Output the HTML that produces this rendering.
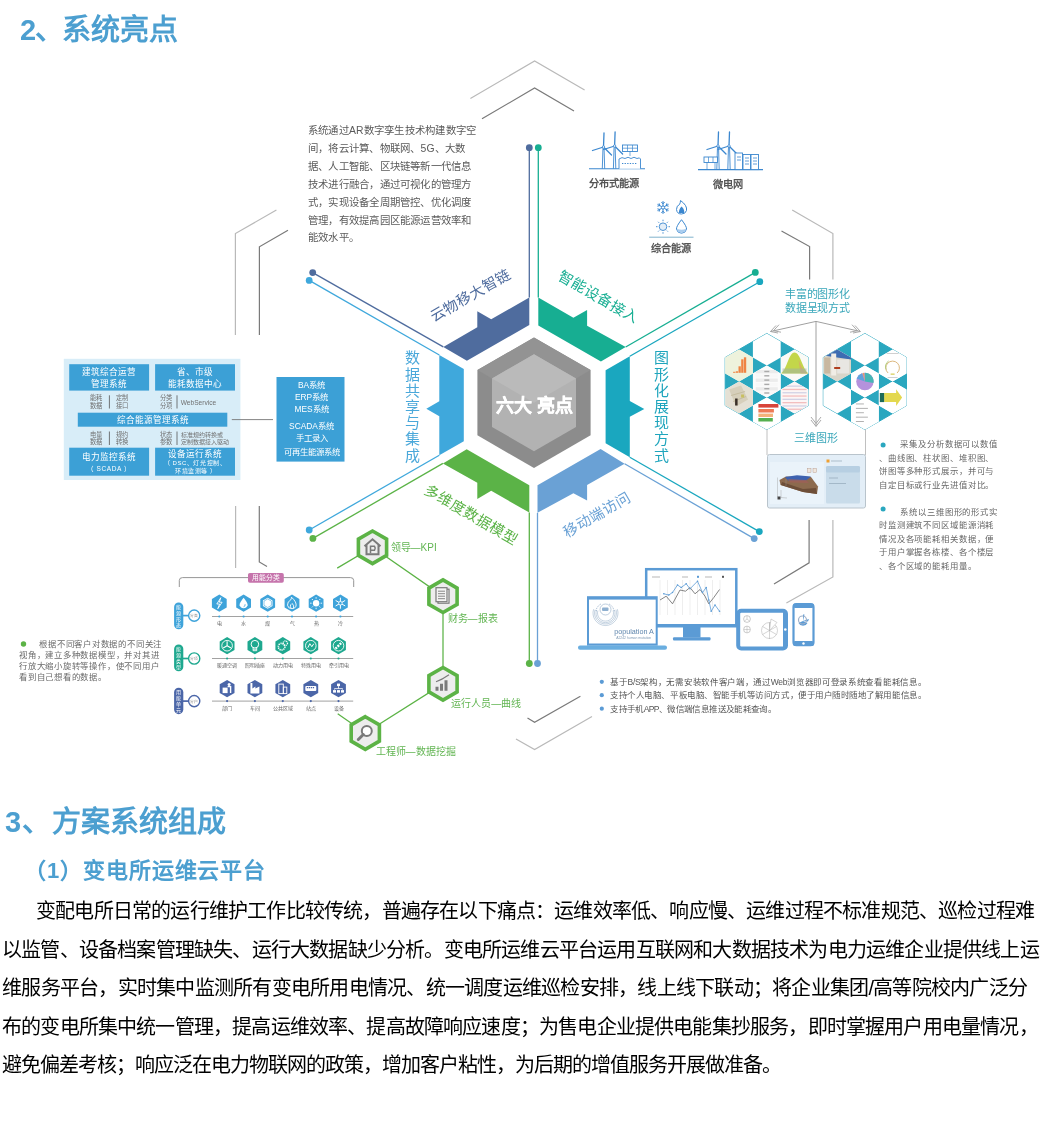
<!DOCTYPE html>
<html lang="zh-CN"><head><meta charset="utf-8">
<style>
html,body{margin:0;padding:0;background:#fff;}
body{width:1040px;height:1132px;position:relative;overflow:hidden;font-family:"Liberation Sans",sans-serif;-webkit-font-smoothing:antialiased;}
.pl,.a{will-change:transform;}
.a{position:absolute;white-space:nowrap;}
svg text{font-family:"Liberation Sans",sans-serif;}
.h1{font-size:29px;font-weight:bold;color:#4c9fd0;line-height:1;}
.h2{font-size:22px;font-weight:bold;color:#4c9fd0;line-height:1;}
.pl{position:absolute;left:8px;width:1027px;font-size:20px;letter-spacing:-1px;line-height:1;color:#000;text-align:justify;text-align-last:justify;white-space:nowrap;}
</style></head>
<body>
<div class="a h1" style="left:20px;top:15.5px"><span style="letter-spacing:-1.45px">2、</span>系统亮点</div>
<svg class="a" style="left:0;top:0" width="1040" height="780" viewBox="0 0 1040 780">
<polyline points="470.4,98.5 534.6,61.0 584.6,90.0" fill="none" stroke="#b9b9b9" stroke-width="1.2"/>
<polyline points="482.0,118.8 534.6,88.0 574.0,111.0" fill="none" stroke="#7a7a7a" stroke-width="1.2"/>
<polyline points="276.4,210.0 235.4,233.5 235.4,335.0" fill="none" stroke="#b9b9b9" stroke-width="1.2"/>
<polyline points="288.0,230.2 259.4,246.8 259.4,335.0" fill="none" stroke="#7a7a7a" stroke-width="1.2"/>
<polyline points="235.6,506.0 235.6,568.0" fill="none" stroke="#b9b9b9" stroke-width="1.2"/>
<polyline points="259.3,506.0 259.3,562.0 267.0,566.5" fill="none" stroke="#7a7a7a" stroke-width="1.2"/>
<polyline points="516.0,739.0 534.6,749.6 592.0,716.5" fill="none" stroke="#b9b9b9" stroke-width="1.2"/>
<polyline points="527.5,717.9 534.6,722.3 580.4,696.2" fill="none" stroke="#7a7a7a" stroke-width="1.2"/>
<polyline points="809.1,520.0 809.1,562.8 774.0,584.0" fill="none" stroke="#7a7a7a" stroke-width="1.2"/>
<polyline points="832.9,520.0 832.9,577.0 786.4,603.0" fill="none" stroke="#b9b9b9" stroke-width="1.2"/>
<polyline points="792.2,209.9 832.9,233.6 832.9,279.6" fill="none" stroke="#b9b9b9" stroke-width="1.2"/>
<polyline points="781.5,230.9 809.6,246.6 809.6,279.6" fill="none" stroke="#7a7a7a" stroke-width="1.2"/>
<polygon points="439.3,355.0 463.8,369.0 463.8,441.3 439.3,455.2 439.3,416.3 426.3,408.8 439.3,401.3" fill="#3fa8dc"/>
<line x1="439.3" y1="355.0" x2="309.2" y2="280.4" stroke="#3fa8dc" stroke-width="1.3"/>
<circle cx="309.2" cy="280.4" r="3.4" fill="#3fa8dc"/>
<line x1="439.3" y1="455.2" x2="309.2" y2="530.0" stroke="#3fa8dc" stroke-width="1.3"/>
<circle cx="309.2" cy="530.0" r="3.4" fill="#3fa8dc"/>
<polygon points="443.3,346.9 466.9,360.8 529.3,324.9 529.3,297.5 491.2,319.3 477.3,311.2 477.3,327.3" fill="#4f6c9e"/>
<line x1="443.3" y1="346.9" x2="312.7" y2="272.6" stroke="#4f6c9e" stroke-width="1.3"/>
<circle cx="312.7" cy="272.6" r="3.4" fill="#4f6c9e"/>
<line x1="529.3" y1="297.5" x2="529.3" y2="147.7" stroke="#4f6c9e" stroke-width="1.3"/>
<circle cx="529.3" cy="147.7" r="3.4" fill="#4f6c9e"/>
<polygon points="538.3,297.6 538.3,325.6 600.9,361.4 625.7,347.0 587.1,325.7 587.1,310.1 573.4,317.8" fill="#17ae92"/>
<line x1="538.3" y1="297.6" x2="538.3" y2="147.7" stroke="#17ae92" stroke-width="1.3"/>
<circle cx="538.3" cy="147.7" r="3.4" fill="#17ae92"/>
<line x1="625.7" y1="347.0" x2="755.3" y2="272.4" stroke="#17ae92" stroke-width="1.3"/>
<circle cx="755.3" cy="272.4" r="3.4" fill="#17ae92"/>
<polygon points="605.6,370.3 629.8,356.3 629.8,401.0 644.3,408.9 629.8,416.8 629.8,457.3 605.6,443.3" fill="#1aa7bf"/>
<line x1="629.8" y1="356.3" x2="759.8" y2="281.7" stroke="#1aa7bf" stroke-width="1.3"/>
<circle cx="759.8" cy="281.7" r="3.4" fill="#1aa7bf"/>
<line x1="629.8" y1="457.3" x2="759.3" y2="531.6" stroke="#1aa7bf" stroke-width="1.3"/>
<circle cx="759.3" cy="531.6" r="3.4" fill="#1aa7bf"/>
<polygon points="537.5,485.2 537.5,512.8 573.4,493.2 587.1,500.4 587.1,485.0 624.6,463.8 600.6,449.0" fill="#6aa1d5"/>
<line x1="537.5" y1="512.8" x2="537.5" y2="663.5" stroke="#6aa1d5" stroke-width="1.3"/>
<circle cx="537.5" cy="663.5" r="3.4" fill="#6aa1d5"/>
<line x1="624.6" y1="463.8" x2="754.2" y2="538.6" stroke="#6aa1d5" stroke-width="1.3"/>
<circle cx="754.2" cy="538.6" r="3.4" fill="#6aa1d5"/>
<polygon points="442.9,463.4 466.7,449.3 529.3,485.3 529.3,512.6 491.2,490.8 477.3,498.9 477.3,482.8" fill="#5bb347"/>
<line x1="442.9" y1="463.4" x2="312.9" y2="538.4" stroke="#5bb347" stroke-width="1.3"/>
<circle cx="312.9" cy="538.4" r="3.4" fill="#5bb347"/>
<line x1="529.3" y1="512.6" x2="529.3" y2="663.5" stroke="#5bb347" stroke-width="1.3"/>
<circle cx="529.3" cy="663.5" r="3.4" fill="#5bb347"/>
<polygon points="534.0,337.4 590.6,370.1 590.6,435.3 534.0,468.0 477.4,435.3 477.4,370.0" fill="#8c8c8c"/>
<polygon points="534.0,337.4 590.5,370.1 576.0,378.4 534.0,354.2 492.0,378.4 477.5,370.1" fill="#939393"/>
<polygon points="534.0,354.2 576.0,378.4 576.0,426.9 534.0,451.2 492.0,426.9 492.0,378.4" fill="#b2b2b2"/>
<polygon points="534.0,354.2 576.0,378.4 534.0,402.7 492.0,378.4" fill="#bababa"/>
<text x="535.0" y="412.2" text-anchor="middle" font-size="18" font-weight="bold" fill="#fff" stroke="#fff" stroke-width="0.4">六大 亮点</text>
<text x="412.8" y="363.4" text-anchor="middle" font-size="15" fill="#4aa8da">数</text>
<text x="412.8" y="379.6" text-anchor="middle" font-size="15" fill="#4aa8da">据</text>
<text x="412.8" y="395.8" text-anchor="middle" font-size="15" fill="#4aa8da">共</text>
<text x="412.8" y="412.0" text-anchor="middle" font-size="15" fill="#4aa8da">享</text>
<text x="412.8" y="428.2" text-anchor="middle" font-size="15" fill="#4aa8da">与</text>
<text x="412.8" y="444.4" text-anchor="middle" font-size="15" fill="#4aa8da">集</text>
<text x="412.8" y="460.6" text-anchor="middle" font-size="15" fill="#4aa8da">成</text>
<text x="661.3" y="363.4" text-anchor="middle" font-size="15" fill="#1fa5bd">图</text>
<text x="661.3" y="379.6" text-anchor="middle" font-size="15" fill="#1fa5bd">形</text>
<text x="661.3" y="395.8" text-anchor="middle" font-size="15" fill="#1fa5bd">化</text>
<text x="661.3" y="412.0" text-anchor="middle" font-size="15" fill="#1fa5bd">展</text>
<text x="661.3" y="428.2" text-anchor="middle" font-size="15" fill="#1fa5bd">现</text>
<text x="661.3" y="444.4" text-anchor="middle" font-size="15" fill="#1fa5bd">方</text>
<text x="661.3" y="460.6" text-anchor="middle" font-size="15" fill="#1fa5bd">式</text>
<text transform="translate(470.7,294.9) rotate(-30)" x="0" y="5.5" text-anchor="middle" font-size="14.6" fill="#4f6c9e">云物移大智链</text>
<text transform="translate(599.0,296.6) rotate(30)" x="0" y="5.5" text-anchor="middle" font-size="14.6" fill="#17ae92">智能设备接入</text>
<text transform="translate(597.0,514.0) rotate(-30)" x="0" y="5.5" text-anchor="middle" font-size="14.6" fill="#6aa1d5">移动端访问</text>
<text transform="translate(471.3,514.2) rotate(30)" x="0" y="5.5" text-anchor="middle" font-size="14.6" fill="#5bb347">多维度数据模型</text>
<line x1="589" y1="168.7" x2="645" y2="168.7" stroke="#3b87cf" stroke-width="1.1"/>
<path d="M602.3,168.7 L603.0,147.0 L604.0,147.0 L604.7,168.7" fill="none" stroke="#3b87cf" stroke-width="0.9"/><path d="M603.5,147.0 L604.0,133.0 M603.5,147.0 L592.5,150.5 M603.5,147.0 L611.5,155.0" stroke="#3b87cf" stroke-width="1.3" stroke-linecap="round"/><circle cx="603.5" cy="147.0" r="1.2" fill="#fff" stroke="#3b87cf" stroke-width="0.8"/>
<path d="M613.4,168.7 L614.1,146.0 L615.1,146.0 L615.8,168.7" fill="none" stroke="#3b87cf" stroke-width="0.9"/><path d="M614.6,146.0 L615.1,132.0 M614.6,146.0 L603.6,149.5 M614.6,146.0 L622.6,154.0" stroke="#3b87cf" stroke-width="1.3" stroke-linecap="round"/><circle cx="614.6" cy="146.0" r="1.2" fill="#fff" stroke="#3b87cf" stroke-width="0.8"/>
<rect x="622.5" y="145" width="15" height="6.5" fill="#fff" stroke="#3b87cf" stroke-width="0.9"/>
<path d="M627.5,145 V151.5 M632.5,145 V151.5 M622.5,148.2 H637.5 M630,151.5 V156" stroke="#3b87cf" stroke-width="0.7"/>
<path d="M619,168.7 V159 Q622,156.5 625,158.5 Q628,156 631,158.5 Q634,156 637,158.5 Q640,157 640.5,159 V168.7" fill="#fff" stroke="#3b87cf" stroke-width="0.9"/>
<path d="M622,163.5 H637" stroke="#3b87cf" stroke-width="1.2" stroke-dasharray="1.3,1.3"/>
<text x="613.5" y="186.8" text-anchor="middle" font-size="10.2" font-weight="bold" fill="#555">分布式能源</text>
<line x1="698" y1="169.6" x2="763" y2="169.6" stroke="#3b87cf" stroke-width="1.1"/>
<path d="M716.8,169.6 L717.5,146.0 L718.5,146.0 L719.2,169.6" fill="none" stroke="#3b87cf" stroke-width="0.9"/><path d="M718.0,146.0 L718.5,132.0 M718.0,146.0 L707.0,149.5 M718.0,146.0 L726.0,154.0" stroke="#3b87cf" stroke-width="1.3" stroke-linecap="round"/><circle cx="718.0" cy="146.0" r="1.2" fill="#fff" stroke="#3b87cf" stroke-width="0.8"/>
<path d="M727.8,169.6 L728.5,146.0 L729.5,146.0 L730.2,169.6" fill="none" stroke="#3b87cf" stroke-width="0.9"/><path d="M729.0,146.0 L729.5,132.0 M729.0,146.0 L718.0,149.5 M729.0,146.0 L737.0,154.0" stroke="#3b87cf" stroke-width="1.3" stroke-linecap="round"/><circle cx="729.0" cy="146.0" r="1.2" fill="#fff" stroke="#3b87cf" stroke-width="0.8"/>
<rect x="704" y="157" width="13.5" height="5.5" fill="#fff" stroke="#3b87cf" stroke-width="0.9"/>
<path d="M708.5,157 V162.5 M713,157 V162.5 M707,162.5 V169.6 M715,162.5 V169.6" stroke="#3b87cf" stroke-width="0.7"/>
<rect x="735" y="153" width="7.5" height="16.6" fill="#fff" stroke="#3b87cf" stroke-width="0.9"/>
<rect x="743" y="154.5" width="7.5" height="15.1" fill="#fff" stroke="#3b87cf" stroke-width="0.9"/>
<rect x="751" y="154.5" width="7.5" height="15.1" fill="#fff" stroke="#3b87cf" stroke-width="0.9"/>
<path d="M745,158 H749 M745,161 H749 M745,164 H749 M753,158 H757 M753,161 H757 M753,164 H757 M737,157 H741 M737,160 H741" stroke="#3b87cf" stroke-width="0.8"/>
<text x="727.6" y="188.2" text-anchor="middle" font-size="10.2" font-weight="bold" fill="#555">微电网</text>
<path d="M663.0,203.7 L661.6,202.3 M663.0,203.7 L664.4,202.3 M663.0,207.5 L663.0,201.5 M666.3,205.6 L666.8,203.7 M666.3,205.6 L668.2,206.1 M663.0,207.5 L668.2,204.5 M666.3,209.4 L668.2,208.9 M666.3,209.4 L666.8,211.3 M663.0,207.5 L668.2,210.5 M663.0,211.3 L664.4,212.7 M663.0,211.3 L661.6,212.7 M663.0,207.5 L663.0,213.5 M659.7,209.4 L659.2,211.3 M659.7,209.4 L657.8,208.9 M663.0,207.5 L657.8,210.5 M659.7,205.6 L657.8,206.1 M659.7,205.6 L659.2,203.7 M663.0,207.5 L657.8,204.5 " stroke="#3b87cf" stroke-width="1" stroke-linecap="round" fill="none"/>
<circle cx="663" cy="207.5" r="1.6" fill="#fff" stroke="#3b87cf" stroke-width="0.9"/>
<path d="M680.5,200.5 Q687.5,205.5 686.5,210.5 Q685.5,214.0 681.5,214.0 Q677.0,214.0 676.5,209.5 Q676.5,205.5 679.5,204.5 Q680.5,202.5 680.5,200.5 Z" fill="#fff" stroke="#3b87cf" stroke-width="1"/>
<path d="M681.5,206.5 Q685.0,209.5 684.0,213.0 L679.0,213.0 Q678.5,209.5 681.5,206.5 Z" fill="#3b87cf"/>
<circle cx="663" cy="226.7" r="3.8" fill="#e3eef8" stroke="#3b87cf" stroke-width="0.9"/>
<path d="M668.5,226.7 L670.0,226.7 M666.9,230.6 L667.9,231.6 M663.0,232.2 L663.0,233.7 M659.1,230.6 L658.1,231.6 M657.5,226.7 L656.0,226.7 M659.1,222.8 L658.1,221.8 M663.0,221.2 L663.0,219.7 M666.9,222.8 L667.9,221.8" stroke="#3b87cf" stroke-width="0.9"/>
<path d="M681.5,219.7 Q687.0,226.7 686.5,229.2 Q685.5,233.2 681.5,233.2 Q677.5,233.2 676.5,229.2 Q676.0,226.7 681.5,219.7 Z" fill="#fff" stroke="#3b87cf" stroke-width="1"/>
<path d="M676.9,228.7 Q681.5,230.7 686.1,228.7 Q685.5,232.7 681.5,232.7 Q677.5,232.7 676.9,228.7 Z" fill="#a9cdef"/>
<line x1="649.2" y1="237.2" x2="693.5" y2="237.2" stroke="#72a9c6" stroke-width="0.9"/>
<text x="670.7" y="252.2" text-anchor="middle" font-size="10.2" font-weight="bold" fill="#555">综合能源</text>
<rect x="63.8" y="358.8" width="176.6" height="121.2" fill="#d8edf8"/>
<rect x="69.2" y="364.2" width="79.9" height="26.4" fill="#3ca0d6"/>
<rect x="155.1" y="364.2" width="79.9" height="26.4" fill="#3ca0d6"/>
<rect x="77.8" y="412.7" width="149.5" height="14" fill="#3ca0d6"/>
<rect x="69.2" y="447.7" width="79.9" height="28" fill="#3ca0d6"/>
<rect x="155.1" y="447.7" width="79.9" height="28" fill="#3ca0d6"/>
<text x="109.1" y="375.4" text-anchor="middle" font-size="8.6" font-weight="normal" fill="#fff" >建筑综合运营</text>
<text x="109.1" y="386.5" text-anchor="middle" font-size="8.6" font-weight="normal" fill="#fff" >管理系统</text>
<text x="195.0" y="375.4" text-anchor="middle" font-size="8.6" font-weight="normal" fill="#fff" >省、市级</text>
<text x="195.0" y="386.5" text-anchor="middle" font-size="8.6" font-weight="normal" fill="#fff" >能耗数据中心</text>
<text x="152.5" y="422.8" text-anchor="middle" font-size="8.6" font-weight="normal" fill="#fff" >综合能源管理系统</text>
<text x="109.1" y="459.6" text-anchor="middle" font-size="8.6" font-weight="normal" fill="#fff" >电力监控系统</text>
<text x="109.1" y="471.2" text-anchor="middle" font-size="6.5" font-weight="normal" fill="#fff" letter-spacing="0.6">（ SCADA ）</text>
<text x="195.0" y="456.7" text-anchor="middle" font-size="8.6" font-weight="normal" fill="#fff" >设备运行系统</text>
<text x="195.0" y="464.8" text-anchor="middle" font-size="6.0" font-weight="normal" fill="#fff" letter-spacing="0.55">（ DSC、灯光控制、</text>
<text x="196.0" y="472.8" text-anchor="middle" font-size="6.0" font-weight="normal" fill="#fff" letter-spacing="0.55">环境监测等 ）</text>
<text x="96.0" y="400.2" text-anchor="middle" font-size="6.3" font-weight="normal" fill="#707070" >能耗</text>
<text x="96.0" y="407.7" text-anchor="middle" font-size="6.3" font-weight="normal" fill="#707070" >数据</text>
<text x="122.3" y="400.2" text-anchor="middle" font-size="6.3" font-weight="normal" fill="#707070" >定制</text>
<text x="122.3" y="407.7" text-anchor="middle" font-size="6.3" font-weight="normal" fill="#707070" >接口</text>
<text x="166.3" y="400.2" text-anchor="middle" font-size="6.3" font-weight="normal" fill="#707070" >分类</text>
<text x="166.3" y="407.7" text-anchor="middle" font-size="6.3" font-weight="normal" fill="#707070" >分项</text>
<text x="180.7" y="404.8" text-anchor="start" font-size="6.6" font-weight="normal" fill="#707070" >WebService</text>
<text x="96.0" y="436.7" text-anchor="middle" font-size="6.3" font-weight="normal" fill="#707070" >电量</text>
<text x="96.0" y="444.2" text-anchor="middle" font-size="6.3" font-weight="normal" fill="#707070" >数据</text>
<text x="122.3" y="436.7" text-anchor="middle" font-size="6.3" font-weight="normal" fill="#707070" >规约</text>
<text x="122.3" y="444.2" text-anchor="middle" font-size="6.3" font-weight="normal" fill="#707070" >转换</text>
<text x="166.3" y="436.7" text-anchor="middle" font-size="6.3" font-weight="normal" fill="#707070" >状态</text>
<text x="166.3" y="444.2" text-anchor="middle" font-size="6.3" font-weight="normal" fill="#707070" >参数</text>
<text x="180.7" y="436.6" text-anchor="start" font-size="6.0" font-weight="normal" fill="#707070" >标准规约转换或</text>
<text x="180.7" y="444.1" text-anchor="start" font-size="6.0" font-weight="normal" fill="#707070" >定制数据接入驱动</text>
<path d="M109.4,395.3 V408.5 M177,395.3 V408.5 M109.4,431.5 V445 M177,431.5 V445" stroke="#555" stroke-width="0.8"/>
<line x1="231.8" y1="419.6" x2="273" y2="419.6" stroke="#777" stroke-width="0.9"/>
<rect x="276.5" y="377" width="68" height="84.6" fill="#3ca0d6"/>
<text x="311.5" y="388.3" text-anchor="middle" font-size="8.4" font-weight="normal" fill="#fff" >BA系统</text>
<text x="311.5" y="399.6" text-anchor="middle" font-size="8.4" font-weight="normal" fill="#fff" >ERP系统</text>
<text x="311.5" y="412.2" text-anchor="middle" font-size="8.4" font-weight="normal" fill="#fff" >MES系统</text>
<text x="311.5" y="428.5" text-anchor="middle" font-size="8.4" font-weight="normal" fill="#fff" >SCADA系统</text>
<text x="311.5" y="441.4" text-anchor="middle" font-size="8.4" font-weight="normal" fill="#fff" >手工录入</text>
<text x="311.5" y="454.8" text-anchor="middle" font-size="8.4" font-weight="normal" fill="#fff" >可再生能源系统</text>
<path d="M179.3,587 V580.5 Q179.3,577.6 182.5,577.6 H350.5 Q353.7,577.6 353.7,580.5 V587" fill="none" stroke="#8a8a8a" stroke-width="0.9"/>
<rect x="248" y="573" width="35.8" height="9.7" rx="1.8" fill="#c674ac"/>
<text x="266.1" y="580.3" text-anchor="middle" font-size="6.8" font-weight="normal" fill="#fff" >用能分类</text>
<rect x="174.1" y="602.4" width="9.2" height="26.9" rx="4.6" fill="#3ea3da"/>
<text x="178.7" y="608.7" text-anchor="middle" font-size="5.0" font-weight="normal" fill="#fff" >能</text>
<text x="178.7" y="614.7" text-anchor="middle" font-size="5.0" font-weight="normal" fill="#fff" >源</text>
<text x="178.7" y="620.6" text-anchor="middle" font-size="5.0" font-weight="normal" fill="#fff" >形</text>
<text x="178.7" y="626.6" text-anchor="middle" font-size="5.0" font-weight="normal" fill="#fff" >态</text>
<line x1="183" y1="615.6" x2="188.5" y2="615.6" stroke="#3ea3da" stroke-width="1.7"/>
<circle cx="194.2" cy="615.6" r="5.6" fill="#fff" stroke="#3ea3da" stroke-width="1.4"/>
<text x="194.2" y="617.0" text-anchor="middle" font-size="3.8" font-weight="normal" fill="#888" >分类</text>
<line x1="212" y1="616.5" x2="353.2" y2="616.5" stroke="#8a8a8a" stroke-width="0.8"/>
<polygon points="219.3,594.6 226.7,598.9 226.7,607.5 219.3,611.8 211.9,607.5 211.9,598.9" fill="#3ea3da"/>
<path d="M220.8,597.7 L216.8,604.0 H219.60000000000002 L217.8,608.7 L222.10000000000002,602.2 H219.3  Z" fill="none" stroke="#fff" stroke-width="0.9"/>
<circle cx="219.3" cy="616.5" r="1.1" fill="#3ea3da"/>
<text x="219.3" y="625.2" text-anchor="middle" font-size="5.0" font-weight="normal" fill="#666" >电</text>
<polygon points="243.6,594.6 251.0,598.9 251.0,607.5 243.6,611.8 236.2,607.5 236.2,598.9" fill="#3ea3da"/>
<path d="M243.6,597.7 Q248.1,603.2 247.6,605.2 Q246.6,608.2 243.6,608.2 Q240.6,608.2 239.6,605.2 Q239.1,603.2 243.6,597.7 Z" fill="#fff"/><path d="M245.1,604.2 Q245.6,606.2 243.6,606.7" stroke="#3ea3da" stroke-width="0.8" fill="none"/>
<circle cx="243.6" cy="616.5" r="1.1" fill="#3ea3da"/>
<text x="243.6" y="625.2" text-anchor="middle" font-size="5.0" font-weight="normal" fill="#666" >水</text>
<polygon points="267.7,594.6 275.1,598.9 275.1,607.5 267.7,611.8 260.3,607.5 260.3,598.9" fill="#3ea3da"/>
<polygon points="267.7,597.7 272.5,600.5 272.5,606.0 267.7,608.7 262.9,606.0 262.9,600.5" fill="#fff"/><polygon points="267.7,598.9 271.4,601.1 271.4,605.4 267.7,607.5 264.0,605.4 264.0,601.1" fill="none" stroke="#3ea3da" stroke-width="0.6"/>
<circle cx="267.7" cy="616.5" r="1.1" fill="#3ea3da"/>
<text x="267.7" y="625.2" text-anchor="middle" font-size="5.0" font-weight="normal" fill="#666" >煤</text>
<polygon points="292.0,594.6 299.4,598.9 299.4,607.5 292.0,611.8 284.6,607.5 284.6,598.9" fill="#3ea3da"/>
<path d="M291.5,597.2 Q297.0,602.2 296.0,606.2 Q295.0,608.7 292.0,608.7 Q288.0,608.7 287.5,605.2 Q287.5,601.2 290.5,600.2 Q291.5,598.7 291.5,597.2 Z M292.0,603.2 Q294.5,605.7 293.5,608.2 M291.0,604.2 Q289.5,606.2 291.0,608.2" fill="none" stroke="#fff" stroke-width="0.9"/>
<circle cx="292.0" cy="616.5" r="1.1" fill="#3ea3da"/>
<text x="292.0" y="625.2" text-anchor="middle" font-size="5.0" font-weight="normal" fill="#666" >气</text>
<polygon points="316.1,594.6 323.5,598.9 323.5,607.5 316.1,611.8 308.7,607.5 308.7,598.9" fill="#3ea3da"/>
<circle cx="316.1" cy="603.2" r="3.2" fill="#fff"/><path d="M320.6,603.2 L322.1,603.2 M319.3,606.4 L320.3,607.4 M316.1,607.7 L316.1,609.2 M312.9,606.4 L311.9,607.4 M311.6,603.2 L310.1,603.2 M312.9,600.0 L311.9,599.0 M316.1,598.7 L316.1,597.2 M319.3,600.0 L320.3,599.0 " stroke="#fff" stroke-width="0.9"/>
<circle cx="316.1" cy="616.5" r="1.1" fill="#3ea3da"/>
<text x="316.1" y="625.2" text-anchor="middle" font-size="5.0" font-weight="normal" fill="#666" >热</text>
<polygon points="340.4,594.6 347.8,598.9 347.8,607.5 340.4,611.8 333.0,607.5 333.0,598.9" fill="#3ea3da"/>
<path d="M340.4,597.7 V608.7 M335.59999999999997,600.45 L345.2,605.95 M335.59999999999997,605.95 L345.2,600.45" stroke="#fff" stroke-width="1"/><circle cx="340.4" cy="603.2" r="1.8" fill="#3ea3da" stroke="#fff" stroke-width="0.8"/>
<circle cx="340.4" cy="616.5" r="1.1" fill="#3ea3da"/>
<text x="340.4" y="625.2" text-anchor="middle" font-size="5.0" font-weight="normal" fill="#666" >冷</text>
<rect x="174.1" y="644.4" width="9.2" height="26.9" rx="4.6" fill="#1ea88f"/>
<text x="178.7" y="650.7" text-anchor="middle" font-size="5.0" font-weight="normal" fill="#fff" >能</text>
<text x="178.7" y="656.7" text-anchor="middle" font-size="5.0" font-weight="normal" fill="#fff" >源</text>
<text x="178.7" y="662.6" text-anchor="middle" font-size="5.0" font-weight="normal" fill="#fff" >类</text>
<text x="178.7" y="668.6" text-anchor="middle" font-size="5.0" font-weight="normal" fill="#fff" >型</text>
<line x1="183" y1="658.5" x2="188.5" y2="658.5" stroke="#1ea88f" stroke-width="1.7"/>
<circle cx="194.2" cy="658.5" r="5.6" fill="#fff" stroke="#1ea88f" stroke-width="1.4"/>
<text x="194.2" y="659.9" text-anchor="middle" font-size="3.8" font-weight="normal" fill="#888" >分项</text>
<line x1="212" y1="658.5" x2="353.2" y2="658.5" stroke="#8a8a8a" stroke-width="0.8"/>
<polygon points="227.1,637.1 234.5,641.4 234.5,650.0 227.1,654.3 219.7,650.0 219.7,641.4" fill="#1ea88f"/>
<circle cx="227.1" cy="645.7" r="5.3" fill="none" stroke="#fff" stroke-width="0.9"/><path d="M227.1,645.7 L227.1,641.2 M227.1,645.7 L223.2,648.0 M227.1,645.7 L231.0,648.0" stroke="#fff" stroke-width="1.1"/>
<circle cx="227.1" cy="658.5" r="1.1" fill="#1ea88f"/>
<text x="227.1" y="667.1" text-anchor="middle" font-size="5.0" font-weight="normal" fill="#666" >暖通空调</text>
<polygon points="254.9,637.1 262.3,641.4 262.3,650.0 254.9,654.3 247.5,650.0 247.5,641.4" fill="#1ea88f"/>
<circle cx="254.9" cy="644.2" r="3.8" fill="none" stroke="#fff" stroke-width="1"/><path d="M253.1,647.7 V650.7 H256.7 V647.7 M253.1,649.2 H256.7" fill="none" stroke="#fff" stroke-width="0.9"/>
<circle cx="254.9" cy="658.5" r="1.1" fill="#1ea88f"/>
<text x="254.9" y="667.1" text-anchor="middle" font-size="5.0" font-weight="normal" fill="#666" >照明插座</text>
<polygon points="282.8,637.1 290.2,641.4 290.2,650.0 282.8,654.3 275.4,650.0 275.4,641.4" fill="#1ea88f"/>
<circle cx="281.6" cy="646.7" r="3.3" fill="none" stroke="#fff" stroke-width="1.6" stroke-dasharray="1.2,0.8"/><circle cx="285.3" cy="643.2" r="2.2" fill="none" stroke="#fff" stroke-width="1.3" stroke-dasharray="1,0.7"/>
<circle cx="282.8" cy="658.5" r="1.1" fill="#1ea88f"/>
<text x="282.8" y="667.1" text-anchor="middle" font-size="5.0" font-weight="normal" fill="#666" >动力用电</text>
<polygon points="310.8,637.1 318.2,641.4 318.2,650.0 310.8,654.3 303.4,650.0 303.4,641.4" fill="#1ea88f"/>
<circle cx="310.8" cy="645.7" r="5.3" fill="none" stroke="#fff" stroke-width="0.9"/><path d="M307.8,647.7 L309.8,643.7 L311.8,646.7 L313.8,643.7" fill="none" stroke="#fff" stroke-width="1"/>
<circle cx="310.8" cy="658.5" r="1.1" fill="#1ea88f"/>
<text x="310.8" y="667.1" text-anchor="middle" font-size="5.0" font-weight="normal" fill="#666" >特殊用电</text>
<polygon points="338.5,637.1 345.9,641.4 345.9,650.0 338.5,654.3 331.1,650.0 331.1,641.4" fill="#1ea88f"/>
<circle cx="338.5" cy="645.7" r="5.3" fill="none" stroke="#fff" stroke-width="0.9"/><path d="M335.5,648.7 L341.5,642.7" stroke="#fff" stroke-width="2.4" stroke-dasharray="2,1"/>
<circle cx="338.5" cy="658.5" r="1.1" fill="#1ea88f"/>
<text x="338.5" y="667.1" text-anchor="middle" font-size="5.0" font-weight="normal" fill="#666" >牵引用电</text>
<rect x="174.1" y="687.7" width="9.2" height="26.5" rx="4.6" fill="#4b66a8"/>
<text x="178.7" y="693.9" text-anchor="middle" font-size="5.0" font-weight="normal" fill="#fff" >用</text>
<text x="178.7" y="699.8" text-anchor="middle" font-size="5.0" font-weight="normal" fill="#fff" >能</text>
<text x="178.7" y="705.7" text-anchor="middle" font-size="5.0" font-weight="normal" fill="#fff" >单</text>
<text x="178.7" y="711.6" text-anchor="middle" font-size="5.0" font-weight="normal" fill="#fff" >元</text>
<line x1="183" y1="701.1" x2="188.5" y2="701.1" stroke="#4b66a8" stroke-width="1.7"/>
<circle cx="194.2" cy="701.1" r="5.6" fill="#fff" stroke="#4b66a8" stroke-width="1.4"/>
<text x="194.2" y="702.5" text-anchor="middle" font-size="3.8" font-weight="normal" fill="#888" >分户</text>
<line x1="212" y1="701.1" x2="353.2" y2="701.1" stroke="#8a8a8a" stroke-width="0.8"/>
<polygon points="227.1,680.0 234.5,684.3 234.5,692.9 227.1,697.2 219.7,692.9 219.7,684.3" fill="#4b66a8"/>
<rect x="222.6" y="687.6" width="5" height="5.5" fill="#fff"/><circle cx="229.1" cy="684.6" r="1.5" fill="#fff"/><path d="M227.6,686.6 L230.6,686.6 L230.6,693.1" stroke="#fff" stroke-width="1.4" fill="none"/>
<circle cx="227.1" cy="701.1" r="1.1" fill="#4b66a8"/>
<text x="227.1" y="709.6" text-anchor="middle" font-size="5.0" font-weight="normal" fill="#666" >部门</text>
<polygon points="254.9,680.0 262.3,684.3 262.3,692.9 254.9,697.2 247.5,692.9 247.5,684.3" fill="#4b66a8"/>
<path d="M250.4,693.6 V683.1 H252.4 V688.6 L255.4,686.6 V688.6 L259.4,686.6 V693.6 Z" fill="#fff"/>
<circle cx="254.9" cy="701.1" r="1.1" fill="#4b66a8"/>
<text x="254.9" y="709.6" text-anchor="middle" font-size="5.0" font-weight="normal" fill="#666" >车间</text>
<polygon points="282.8,680.0 290.2,684.3 290.2,692.9 282.8,697.2 275.4,692.9 275.4,684.3" fill="#4b66a8"/>
<rect x="278.8" y="684.1" width="4.5" height="9.5" fill="none" stroke="#fff" stroke-width="0.9"/><rect x="283.3" y="687.1" width="3.5" height="6.5" fill="none" stroke="#fff" stroke-width="0.9"/>
<circle cx="282.8" cy="701.1" r="1.1" fill="#4b66a8"/>
<text x="282.8" y="709.6" text-anchor="middle" font-size="5.0" font-weight="normal" fill="#666" >公共区域</text>
<polygon points="310.8,680.0 318.2,684.3 318.2,692.9 310.8,697.2 303.4,692.9 303.4,684.3" fill="#4b66a8"/>
<rect x="305.3" y="686.1" width="11" height="5" rx="1" fill="#fff"/><path d="M306.8,687.6 H314.8" stroke="#4b66a8" stroke-width="1.2" stroke-dasharray="1.3,0.7"/>
<circle cx="310.8" cy="701.1" r="1.1" fill="#4b66a8"/>
<text x="310.8" y="709.6" text-anchor="middle" font-size="5.0" font-weight="normal" fill="#666" >站点</text>
<polygon points="338.5,680.0 345.9,684.3 345.9,692.9 338.5,697.2 331.1,692.9 331.1,684.3" fill="#4b66a8"/>
<rect x="337.0" y="683.6" width="3" height="2.5" fill="#fff"/><path d="M338.5,686.1 V688.6 M334.5,689.6 V688.6 H342.5 V689.6" stroke="#fff" stroke-width="0.8" fill="none"/><rect x="333.0" y="690.1" width="3" height="2.5" fill="#fff"/><rect x="337.0" y="690.1" width="3" height="2.5" fill="#fff"/><rect x="341.0" y="690.1" width="3" height="2.5" fill="#fff"/>
<circle cx="338.5" cy="701.1" r="1.1" fill="#4b66a8"/>
<text x="338.5" y="709.6" text-anchor="middle" font-size="5.0" font-weight="normal" fill="#666" >设备</text>
<path d="M337.2,568.1 L372.5,547.3 L443,596.2 L443,683.8 L365.3,733 L337.7,713.8" fill="none" stroke="#5cb346" stroke-width="1.25"/>
<polygon points="372.5,531.0 386.6,539.1 386.6,555.4 372.5,563.6 358.4,555.4 358.4,539.1" fill="#ededed" stroke="#5cb346" stroke-width="3.6"/>
<polygon points="443.0,579.9 457.1,588.1 457.1,604.4 443.0,612.5 428.9,604.4 428.9,588.1" fill="#ededed" stroke="#5cb346" stroke-width="3.6"/>
<polygon points="443.0,667.5 457.1,675.6 457.1,691.9 443.0,700.1 428.9,691.9 428.9,675.6" fill="#ededed" stroke="#5cb346" stroke-width="3.6"/>
<polygon points="365.3,716.7 379.4,724.9 379.4,741.1 365.3,749.3 351.2,741.1 351.2,724.9" fill="#ededed" stroke="#5cb346" stroke-width="3.6"/>
<path d="M364.5,546.3 L372.5,539.3 L380.5,546.3 M366.5,544.8 V554.3 H378.5 V544.8" fill="none" stroke="#7a7a7a" stroke-width="2"/>
<path d="M370.5,553.3 V546.3 H374.5 Q376.0,548.3 374.5,550.3 H370.5" fill="none" stroke="#7a7a7a" stroke-width="1.5"/>
<rect x="438" y="589.2" width="11" height="14" fill="#fff" stroke="#7a7a7a" stroke-width="1.2"/>
<rect x="436" y="587.7" width="11" height="14" fill="#f4f4f4" stroke="#7a7a7a" stroke-width="1.2"/>
<path d="M438,591.2 H445 M438,593.7 H445 M438,596.2 H445 M438,598.7 H445" stroke="#7a7a7a" stroke-width="0.9"/>
<path d="M437,690.8 V686.8 M441.5,690.8 V683.8 M446,690.8 V680.3" stroke="#7a7a7a" stroke-width="3"/>
<path d="M436,681.8 Q442,679.8 449,674.8" fill="none" stroke="#7a7a7a" stroke-width="1.1"/>
<circle cx="366.8" cy="731" r="5" fill="#fff" stroke="#7a7a7a" stroke-width="2"/>
<line x1="363.3" y1="734.5" x2="358.3" y2="739.5" stroke="#7a7a7a" stroke-width="3" stroke-linecap="round"/>
<text x="390.6" y="551.2" text-anchor="start" font-size="10" font-weight="normal" fill="#62b552" >领导—KPI</text>
<text x="447.6" y="622.3" text-anchor="start" font-size="10" font-weight="normal" fill="#62b552" >财务—报表</text>
<text x="451.3" y="706.8" text-anchor="start" font-size="10" font-weight="normal" fill="#62b552" >运行人员—曲线</text>
<text x="375.6" y="755.4" text-anchor="start" font-size="10" font-weight="normal" fill="#62b552" >工程师—数据挖掘</text>
<text x="817.3" y="298.2" text-anchor="middle" font-size="11" font-weight="normal" fill="#38a6b9" letter-spacing="-0.3">丰富的图形化</text>
<text x="817.3" y="312.2" text-anchor="middle" font-size="11" font-weight="normal" fill="#38a6b9" letter-spacing="-0.3">数据呈现方式</text>
<path d="M816,321.4 L770.5,331.5 M816,321.4 L860.4,331.5 M816,321.4 L816,426.4" stroke="#a0a0a0" stroke-width="1" fill="none"/>
<path d="M776,325.5 L770.5,331.5 L778,333 M779,324.7 L773.5,330.7 L781,332.2" stroke="#a0a0a0" stroke-width="0.9" fill="none"/>
<path d="M855,325.5 L860.4,331.5 L853,333 M852,324.7 L857.4,330.7 L850,332.2" stroke="#a0a0a0" stroke-width="0.9" fill="none"/>
<path d="M811,420 L816,426.4 L821,420 M811,417 L816,423.4 L821,417" stroke="#a0a0a0" stroke-width="0.9" fill="none"/>
<text x="816.0" y="441.5" text-anchor="middle" font-size="11" font-weight="normal" fill="#38a6b9" letter-spacing="0.2">三维图形</text>
<polygon points="766.8,333.5 808.4,357.5 808.4,405.5 766.8,429.5 725.2,405.5 725.2,357.5" fill="#2aa7bf" stroke="#2aa7bf" stroke-width="1"/>
<clipPath id="caNone"><polygon points="766.8,365.5 780.7,373.5 780.7,389.5 766.8,397.5 752.9,389.5 752.9,373.5"/></clipPath>
<polygon points="766.8,365.5 780.7,373.5 780.7,389.5 766.8,397.5 752.9,389.5 752.9,373.5" fill="#fff"/>
<g clip-path="url(#caNone)"><rect x="752.8" y="365.5" width="28" height="32" fill="#fbfbfb"/><rect x="755.8" y="370.0" width="22" height="3.3" fill="#ececec"/><rect x="764.3" y="370.8" width="5" height="1.4" fill="#aaa"/><rect x="755.8" y="374.3" width="22" height="3.3" fill="#f8f8f8"/><rect x="764.3" y="375.1" width="5" height="1.4" fill="#aaa"/><rect x="755.8" y="378.6" width="22" height="3.3" fill="#ececec"/><rect x="764.3" y="379.4" width="5" height="1.4" fill="#aaa"/><rect x="755.8" y="382.9" width="22" height="3.3" fill="#f8f8f8"/><rect x="764.3" y="383.7" width="5" height="1.4" fill="#aaa"/><rect x="755.8" y="387.2" width="22" height="3.3" fill="#ececec"/><rect x="764.3" y="388.0" width="5" height="1.4" fill="#aaa"/><rect x="755.8" y="391.5" width="22" height="3.3" fill="#f8f8f8"/><rect x="764.3" y="392.3" width="5" height="1.4" fill="#aaa"/></g>
<clipPath id="ca-90"><polygon points="766.8,333.5 780.7,341.5 780.7,357.5 766.8,365.5 752.9,357.5 752.9,341.5"/></clipPath>
<polygon points="766.8,333.5 780.7,341.5 780.7,357.5 766.8,365.5 752.9,357.5 752.9,341.5" fill="#fff"/>
<clipPath id="ca-30"><polygon points="794.5,349.5 808.4,357.5 808.4,373.5 794.5,381.5 780.7,373.5 780.7,357.5"/></clipPath>
<polygon points="794.5,349.5 808.4,357.5 808.4,373.5 794.5,381.5 780.7,373.5 780.7,357.5" fill="#fff"/>
<g clip-path="url(#ca-30)"><rect x="780.512812921102" y="349.5" width="28" height="32" fill="#fafaf6"/><path d="M780.512812921102,373.5 C786.512812921102,371.5 788.512812921102,352.5 794.512812921102,352.5 C800.512812921102,352.5 802.512812921102,369.5 808.512812921102,373.5 Z" fill="#c3d64a"/><path d="M798.512812921102,359.5 C801.512812921102,367.5 803.512812921102,371.5 808.512812921102,373.5 L800.512812921102,373.5 Z" fill="#d9a66a" opacity="0.8"/><rect x="782.512812921102" y="368.5" width="24" height="5" fill="#9fb2a8" opacity="0.55"/></g>
<clipPath id="ca30"><polygon points="794.5,381.5 808.4,389.5 808.4,405.5 794.5,413.5 780.7,405.5 780.7,389.5"/></clipPath>
<polygon points="794.5,381.5 808.4,389.5 808.4,405.5 794.5,413.5 780.7,405.5 780.7,389.5" fill="#fff"/>
<g clip-path="url(#ca30)"><rect x="780.512812921102" y="381.5" width="28" height="32" fill="#fcf6f6"/><rect x="782.512812921102" y="385.5" width="24" height="1.3" fill="#c8c8e0" opacity="0.8"/><rect x="782.512812921102" y="388.8" width="24" height="1.3" fill="#f0b0b0" opacity="0.8"/><rect x="782.512812921102" y="392.1" width="24" height="1.3" fill="#c8c8e0" opacity="0.8"/><rect x="782.512812921102" y="395.4" width="24" height="1.3" fill="#f0b0b0" opacity="0.8"/><rect x="782.512812921102" y="398.7" width="24" height="1.3" fill="#c8c8e0" opacity="0.8"/><rect x="782.512812921102" y="402.0" width="24" height="1.3" fill="#f0b0b0" opacity="0.8"/><rect x="782.512812921102" y="405.3" width="24" height="1.3" fill="#c8c8e0" opacity="0.8"/><rect x="782.512812921102" y="408.6" width="24" height="1.3" fill="#f0b0b0" opacity="0.8"/></g>
<clipPath id="ca90"><polygon points="766.8,397.5 780.7,405.5 780.7,421.5 766.8,429.5 752.9,421.5 752.9,405.5"/></clipPath>
<polygon points="766.8,397.5 780.7,405.5 780.7,421.5 766.8,429.5 752.9,421.5 752.9,405.5" fill="#fff"/>
<g clip-path="url(#ca90)"><rect x="752.8" y="397.5" width="28" height="32" fill="#fff"/><rect x="758.4" y="404.0" width="20.0" height="3.6" fill="#d8443a"/><rect x="758.4" y="409.0" width="15.5" height="3.5" fill="#ee7a55"/><rect x="758.4" y="413.6" width="14.6" height="3.4" fill="#f4b27a"/><rect x="758.4" y="418.0" width="14.4" height="3.5" fill="#55b050"/></g>
<clipPath id="ca150"><polygon points="739.1,381.5 752.9,389.5 752.9,405.5 739.1,413.5 725.2,405.5 725.2,389.5"/></clipPath>
<polygon points="739.1,381.5 752.9,389.5 752.9,405.5 739.1,413.5 725.2,405.5 725.2,389.5" fill="#fff"/>
<g clip-path="url(#ca150)"><rect x="725.087187078898" y="381.5" width="28" height="32" fill="#e4e0d4"/><path d="M729.087187078898,389.5 L741.087187078898,385.5 L748.087187078898,399.5 L736.087187078898,406.5 Z" fill="#d6cfbb"/><path d="M731.087187078898,395.5 L745.087187078898,391.5 M733.087187078898,401.5 L746.087187078898,396.5" stroke="#c0b898" stroke-width="0.8"/><rect x="735.087187078898" y="398.5" width="2.5" height="7" fill="#3a3028"/><rect x="741.087187078898" y="394.5" width="3" height="3" fill="#c8c060"/></g>
<clipPath id="ca210"><polygon points="739.1,349.5 752.9,357.5 752.9,373.5 739.1,381.5 725.2,373.5 725.2,357.5"/></clipPath>
<polygon points="739.1,349.5 752.9,357.5 752.9,373.5 739.1,381.5 725.2,373.5 725.2,357.5" fill="#fff"/>
<g clip-path="url(#ca210)"><rect x="725.087187078898" y="349.5" width="28" height="32" fill="#eef2dc"/><rect x="733.1" y="371.8" width="2.3" height="1" fill="#ef8443"/><rect x="735.8" y="371.3" width="2.3" height="1.5" fill="#ef8443"/><rect x="738.5" y="366.3" width="2.3" height="6.5" fill="#ef8443"/><rect x="741.2" y="359.3" width="2.3" height="13.5" fill="#ef8443"/><rect x="743.9" y="357.3" width="2.3" height="15.5" fill="#ef8443"/></g>
<polygon points="864.9,333.5 906.5,357.5 906.5,405.5 864.9,429.5 823.3,405.5 823.3,357.5" fill="#2aa7bf" stroke="#2aa7bf" stroke-width="1"/>
<clipPath id="cbNone"><polygon points="864.9,365.5 878.8,373.5 878.8,389.5 864.9,397.5 851.0,389.5 851.0,373.5"/></clipPath>
<polygon points="864.9,365.5 878.8,373.5 878.8,389.5 864.9,397.5 851.0,389.5 851.0,373.5" fill="#fff"/>
<g clip-path="url(#cbNone)"><rect x="850.9" y="365.5" width="28" height="32" fill="#fff"/><circle cx="864.9" cy="381.5" r="8.7" fill="#b592dc"/><path d="M864.9,381.5 L864.9,372.8 A8.7,8.7 0 0 1 873.5,383.0 Z" fill="#45b5b5"/><path d="M864.9,381.5 L856.7,378.5 A8.7,8.7 0 0 1 861.9,373.3 Z" fill="#5fa3dc"/><path d="M864.9,381.5 L862.6,373.1 A8.7,8.7 0 0 1 864.1,372.8 Z" fill="#e8a060"/></g>
<clipPath id="cb-90"><polygon points="864.9,333.5 878.8,341.5 878.8,357.5 864.9,365.5 851.0,357.5 851.0,341.5"/></clipPath>
<polygon points="864.9,333.5 878.8,341.5 878.8,357.5 864.9,365.5 851.0,357.5 851.0,341.5" fill="#fff"/>
<clipPath id="cb-30"><polygon points="892.6,349.5 906.5,357.5 906.5,373.5 892.6,381.5 878.8,373.5 878.8,357.5"/></clipPath>
<polygon points="892.6,349.5 906.5,357.5 906.5,373.5 892.6,381.5 878.8,373.5 878.8,357.5" fill="#fff"/>
<g clip-path="url(#cb-30)"><rect x="878.612812921102" y="349.5" width="28" height="32" fill="#fff"/><path d="M888.112812921102,373.0 A6.8,6.8 0 1 1 897.112812921102,373.0" fill="none" stroke="#d8b070" stroke-width="0.9"/><path d="M886.112812921102,369.5 A6.8,6.8 0 0 1 888.612812921102,361.0" fill="none" stroke="#a8c870" stroke-width="0.9"/><rect x="890.612812921102" y="373.5" width="4" height="1.3" fill="#d8d060"/><path d="M886.612812921102,353.5 H898.612812921102 M887.612812921102,377.5 H897.612812921102" stroke="#bbb" stroke-width="0.7"/></g>
<clipPath id="cb30"><polygon points="892.6,381.5 906.5,389.5 906.5,405.5 892.6,413.5 878.8,405.5 878.8,389.5"/></clipPath>
<polygon points="892.6,381.5 906.5,389.5 906.5,405.5 892.6,413.5 878.8,405.5 878.8,389.5" fill="#fff"/>
<g clip-path="url(#cb30)"><rect x="878.612812921102" y="381.5" width="28" height="32" fill="#fff"/><path d="M884.112812921102,393.0 H896.112812921102 V389.2 L902.112812921102,397.5 L896.112812921102,406.1 V402.1 H884.112812921102 Z" fill="#e3d84e"/><rect x="879.812812921102" y="393.0" width="4.3" height="9.1" fill="#1d6a58"/></g>
<clipPath id="cb90"><polygon points="864.9,397.5 878.8,405.5 878.8,421.5 864.9,429.5 851.0,421.5 851.0,405.5"/></clipPath>
<polygon points="864.9,397.5 878.8,405.5 878.8,421.5 864.9,429.5 851.0,421.5 851.0,405.5" fill="#fff"/>
<g clip-path="url(#cb90)"><rect x="850.9" y="397.5" width="28" height="32" fill="#fff"/><rect x="855.9" y="403.5" width="8" height="0.9" fill="#aaa"/><rect x="855.9" y="407.9" width="12" height="0.9" fill="#aaa"/><rect x="855.9" y="412.3" width="8" height="0.9" fill="#aaa"/><rect x="855.9" y="416.7" width="12" height="0.9" fill="#aaa"/><rect x="855.9" y="421.1" width="8" height="0.9" fill="#aaa"/></g>
<clipPath id="cb150"><polygon points="837.2,381.5 851.0,389.5 851.0,405.5 837.2,413.5 823.3,405.5 823.3,389.5"/></clipPath>
<polygon points="837.2,381.5 851.0,389.5 851.0,405.5 837.2,413.5 823.3,405.5 823.3,389.5" fill="#fff"/>
<clipPath id="cb210"><polygon points="837.2,349.5 851.0,357.5 851.0,373.5 837.2,381.5 823.3,373.5 823.3,357.5"/></clipPath>
<polygon points="837.2,349.5 851.0,357.5 851.0,373.5 837.2,381.5 823.3,373.5 823.3,357.5" fill="#fff"/>
<g clip-path="url(#cb210)"><rect x="823.187187078898" y="349.5" width="28" height="32" fill="#d9d5c9"/><path d="M823.187187078898,349.5 H851.187187078898 V359.5 L823.187187078898,355.5 Z" fill="#3d6cb2"/><rect x="831.187187078898" y="353.5" width="5" height="22" fill="#f1ede6"/><rect x="837.187187078898" y="359.5" width="12" height="14" fill="#e8e6e2"/><rect x="824.187187078898" y="357.5" width="6" height="16" fill="#c8b8a0"/><rect x="834.187187078898" y="367.0" width="6" height="2" fill="#b04020"/></g>
<path d="M767,429.4 V455 M865.5,429.4 V455" stroke="#c0c0c0" stroke-width="1"/>
<rect x="767.5" y="454.5" width="98" height="53.5" rx="2" fill="#e3eef7" stroke="#b9c4cc" stroke-width="1"/>
<rect x="770" y="462" width="54" height="42" fill="#eaf3fa"/>
<rect x="826" y="466" width="34" height="37.5" rx="1.5" fill="#c9dcea"/>
<rect x="826" y="466" width="34" height="6.5" rx="1.5" fill="#b7cfe2"/>
<rect x="826.5" y="459.5" width="3" height="3" fill="#f0a030"/>
<path d="M831,461 H842 M829,478 H838 M829,483.5 H846" stroke="#8aa0b0" stroke-width="0.6"/>
<path d="M779.5,480 L786,476.5 L811,477 L818,486.5 L817,494 L803,492 L780.5,485 Z" fill="#8c6a4e"/>
<path d="M785,477 L797,475.2 L811,476.5 L806,480.5 L788,480.5 Z" fill="#3d62b0"/>
<path d="M788,479 L806,480 L809,483 L790,482.5 Z" fill="#a0605a" opacity="0.7"/>
<path d="M781,485 L803,492 L817,494 L816,488 L803,489 L782,482 Z" fill="#6d4e38"/>
<path d="M777.5,477.5 V497 M781,490 V497.5 L787,498 M786,479 V486" stroke="#999" stroke-width="0.4" fill="none"/>
<rect x="777.5" y="496.5" width="3" height="3" fill="#444"/>
<rect x="807.5" y="468.5" width="3.5" height="4" fill="#efe6dc" stroke="#b09080" stroke-width="0.4"/><rect x="813" y="468.5" width="3.5" height="4" fill="#efe6dc" stroke="#b09080" stroke-width="0.4"/>
<rect x="646.2" y="569.2" width="90.1" height="56.3" fill="#fff" stroke="#5b9bd5" stroke-width="2.5"/>
<rect x="646" y="624" width="91" height="3.5" fill="#5b9bd5"/>
<rect x="683" y="627" width="17.5" height="10.5" fill="#5b9bd5"/>
<rect x="673" y="637.2" width="37.5" height="3.3" rx="1" fill="#5b9bd5"/>
<path d="M660.0,580 V615 M667.5,580 V615 M675.0,580 V615 M682.5,580 V615 M690.0,580 V615 M697.5,580 V615 M705.0,580 V615 M712.5,580 V615 M720.0,580 V615 " stroke="#ddd" stroke-width="0.5"/>
<polyline points="660.0,600.0 666.2,596.2 672.5,603.8 680.0,590.0 685.5,591.2 690.0,587.5 695.0,593.8 700.0,589.5 705.0,596.2 708.8,603.8 713.8,597.5 719.5,589.5" fill="none" stroke="#666" stroke-width="0.8"/>
<polyline points="663.8,593.8 668.8,595.0 672.5,592.5 677.5,585.0 681.2,587.5 686.2,583.8 690.0,588.8 697.5,581.2 702.5,592.5 706.2,587.5 708.8,600.0 711.2,611.2 715.0,605.0 719.5,611.2" fill="none" stroke="#5b9bd5" stroke-width="0.8"/>
<circle cx="663.8" cy="593.8" r="0.8" fill="#5b9bd5"/><circle cx="668.8" cy="595.0" r="0.8" fill="#5b9bd5"/><circle cx="672.5" cy="592.5" r="0.8" fill="#5b9bd5"/><circle cx="677.5" cy="585.0" r="0.8" fill="#5b9bd5"/><circle cx="681.2" cy="587.5" r="0.8" fill="#5b9bd5"/><circle cx="686.2" cy="583.8" r="0.8" fill="#5b9bd5"/><circle cx="690.0" cy="588.8" r="0.8" fill="#5b9bd5"/><circle cx="697.5" cy="581.2" r="0.8" fill="#5b9bd5"/><circle cx="702.5" cy="592.5" r="0.8" fill="#5b9bd5"/><circle cx="706.2" cy="587.5" r="0.8" fill="#5b9bd5"/><circle cx="708.8" cy="600.0" r="0.8" fill="#5b9bd5"/><circle cx="711.2" cy="611.2" r="0.8" fill="#5b9bd5"/><circle cx="715.0" cy="605.0" r="0.8" fill="#5b9bd5"/><circle cx="719.5" cy="611.2" r="0.8" fill="#5b9bd5"/>
<path d="M652,577 H660 M682,577 H688 M705,577 H712" stroke="#999" stroke-width="0.7"/>
<rect x="697" y="575.8" width="2" height="2" fill="#5b9bd5"/><rect x="722" y="575.8" width="2" height="2" fill="#555"/>
<rect x="587" y="596.2" width="70.7" height="49.5" fill="#5b9bd5"/>
<rect x="589" y="599.6" width="66.7" height="43.9" fill="#fff"/>
<rect x="578" y="645.5" width="89" height="4.3" rx="2" fill="#6aaee0"/>
<path d="M597.9,610.6 A8,8 0 1 0 613.1,610.6" fill="none" stroke="#7d9cbc" stroke-width="0.45"/>
<path d="M596.5,610.1 A9.5,9.5 0 1 0 614.5,610.1" fill="none" stroke="#7d9cbc" stroke-width="0.45"/>
<path d="M595.0,609.7 A11,11 0 1 0 616.0,609.7" fill="none" stroke="#7d9cbc" stroke-width="0.45"/>
<path d="M593.6,609.2 A12.5,12.5 0 1 0 617.4,609.2" fill="none" stroke="#7d9cbc" stroke-width="0.45"/>
<path d="M596,611 A9,9 0 0 1 601,604 M609,604 A9,9 0 0 1 614,611" fill="none" stroke="#7d9cbc" stroke-width="0.8" stroke-dasharray="1,1"/>
<rect x="602" y="607.5" width="6.5" height="3.5" rx="1" fill="#8fb0d0"/><circle cx="605.5" cy="609.5" r="5.5" fill="none" stroke="#7d9cbc" stroke-width="0.5"/>
<text x="634.0" y="634.0" text-anchor="middle" font-size="7.2" font-weight="normal" fill="#5f86ad" >population A</text>
<text x="633.7" y="638.5" text-anchor="middle" font-size="3.4" font-weight="normal" fill="#7f9ab5" >A2242   human  mutation</text>
<rect x="738.2" y="610.8" width="47.8" height="37.7" rx="3" fill="#fff" stroke="#5b9bd5" stroke-width="4"/>
<rect x="783" y="612" width="4" height="35" fill="#5b9bd5"/>
<circle cx="785.3" cy="629.5" r="1.3" fill="#fff"/>
<circle cx="769.5" cy="630.5" r="8" fill="none" stroke="#aaa" stroke-width="0.5"/>
<path d="M769.5,630.5 L769.5,622.5 L769.5,639 M769.5,630.5 L776.5,626.5 M769.5,630.5 L776.5,634.5 M769.5,630.5 L762.5,634.5 M769.5,630.5 L762.5,626.5" stroke="#aaa" stroke-width="0.5"/>
<path d="M769.5,630.5 L771,619 L777,622.5 Z" fill="#fff" stroke="#aaa" stroke-width="0.5"/>
<circle cx="747" cy="619" r="3.4" fill="none" stroke="#999" stroke-width="0.5"/><circle cx="747" cy="629.5" r="3.4" fill="none" stroke="#999" stroke-width="0.5"/><path d="M744,629.5 H750 M747,626.5 V632.5 M747,619 L744.5,621 M747,619 L749.5,621 M747,619 V616" stroke="#999" stroke-width="0.4"/>
<rect x="793.5" y="604" width="20" height="41.2" rx="3" fill="#fff" stroke="#5b9bd5" stroke-width="2.2"/>
<rect x="793" y="603.5" width="21" height="4.5" rx="2" fill="#5b9bd5"/><rect x="793" y="641" width="21" height="5" rx="2" fill="#5b9bd5"/>
<circle cx="803.5" cy="643.5" r="1.2" fill="#fff"/>
<path d="M803,621 L798.5,623 A5,5 0 0 0 807.5,623 Z" fill="#5b9bd5"/><path d="M803,621 L803,614.5 L804.5,614.5 Z M803,621 L809,619 L808,621.5 Z" fill="#5b9bd5"/><circle cx="802.5" cy="620" r="4" fill="none" stroke="#9fb0c8" stroke-width="1.2"/>
<circle cx="601.8" cy="681.8" r="2.1" fill="#5b9bd5"/>
<text x="610.2" y="684.9" font-size="8.5" fill="#555" textLength="316.4" lengthAdjust="spacing">基于B/S架构，无需安装软件客户端，通过Web浏览器即可登录系统查看能耗信息。</text>
<circle cx="601.8" cy="695.2" r="2.1" fill="#5b9bd5"/>
<text x="610.2" y="698.3" font-size="8.5" fill="#555" textLength="316.4" lengthAdjust="spacing">支持个人电脑、平板电脑、智能手机等访问方式，便于用户随时随地了解用能信息。</text>
<circle cx="601.8" cy="708.7" r="2.1" fill="#5b9bd5"/>
<text x="610.2" y="711.8" font-size="8.5" fill="#555" textLength="166.6" lengthAdjust="spacing">支持手机APP、微信端信息推送及能耗查询。</text>
<circle cx="23.5" cy="644" r="2.7" fill="#5cb346"/>
<circle cx="883.1" cy="445.1" r="2.5" fill="#2aa7bf"/>
<circle cx="883.1" cy="509" r="2.5" fill="#2aa7bf"/>
</svg>

<div class="a" style="left:307.5px;top:121.5px;font-size:10.4px;letter-spacing:0.22px;line-height:17.9px;color:#5a5a5a;">系统通过AR数字孪生技术构建数字空<br>间，将云计算、物联网、5G、大数<br>据、人工智能、区块链等新一代信息<br>技术进行融合，通过可视化的管理方<br>式，实现设备全周期管控、优化调度<br>管理，有效提高园区能源运营效率和<br>能效水平。</div>
<div class="a" style="left:19.2px;top:638.6px;font-size:8.4px;letter-spacing:0.78px;line-height:11.1px;color:#6a6a6a;"><span style="display:inline-block;width:20.2px"></span>根据不同客户对数据的不同关注<br>视角，建立多种数据模型，并对其进<br>行放大缩小旋转等操作，使不同用户<br>看到自己想看的数据。</div>
<div class="a" style="left:878.8px;top:438.4px;font-size:8.4px;letter-spacing:0.87px;line-height:13.55px;color:#666;"><span style="display:inline-block;width:21.3px"></span>采集及分析数据可以数值<br>、曲线图、柱状图、堆积图、<br>饼图等多种形式展示，并可与<br>自定目标或行业先进值对比。<br><br><span style="display:inline-block;width:21.3px"></span>系统以三维图形的形式实<br>时监测建筑不同区域能源消耗<br>情况及各项能耗相关数据，便<br>于用户掌握各栋楼、各个楼层<br>、各个区域的能耗用量。</div>

<div class="a h1" style="left:5px;top:808px"><span style="letter-spacing:0.8px">3、</span>方案系统组成</div>
<div class="a h2" style="left:24px;top:860px;letter-spacing:0.9px">（1）变电所运维云平台</div>
<div class="pl" style="top:901px;left:36px;width:998px">变配电所日常的运行维护工作比较传统，普遍存在以下痛点：运维效率低、响应慢、运维过程不标准规范、巡检过程难</div>
<div class="pl" style="top:939.5px;left:1.5px;width:1036.5px">以监管、设备档案管理缺失、运行大数据缺少分析。变电所运维云平台运用互联网和大数据技术为电力运维企业提供线上运</div>
<div class="pl" style="top:977.5px;left:1.5px;width:1025px">维服务平台，实时集中监测所有变电所用电情况、统一调度运维巡检安排，线上线下联动；将企业集团/高等院校内广泛分</div>
<div class="pl" style="top:1016.5px;left:1.5px;width:1035.5px">布的变电所集中统一管理，提高运维效率、提高故障响应速度；为售电企业提供电能集抄服务，即时掌握用户用电量情况，</div>
<div class="pl" style="top:1054.5px;left:1.5px;text-align-last:left">避免偏差考核；响应泛在电力物联网的政策，增加客户粘性，为后期的增值服务开展做准备。</div>
</body></html>
